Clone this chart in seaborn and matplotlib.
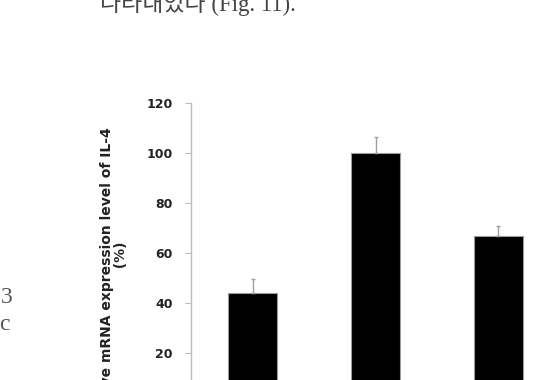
import matplotlib
matplotlib.use('Agg')
import matplotlib.pyplot as plt
import seaborn as sns
import pandas as pd

groups = ['Control', 'Group 2', 'Group 3']
means = [44, 100, 67]
errors = [5.5, 6.5, 4.0]
yticks = [0, 20, 40, 60, 80, 100, 120]
ylabel = 'Relative mRNA expression level of IL-4\n          (%)'
doc_top = '나타내었다 (Fig. 11).'

sns.set_theme(style='white')
plt.rcParams['font.family'] = ['DejaVu Sans']

W, H = 543, 380
fig = plt.figure(figsize=(W / 100, H / 100), dpi=100)
ax = fig.add_axes([191 / W, -23 / H, 369 / W, 300 / H])

df = pd.DataFrame({'group': groups, 'mean': means})
sns.barplot(data=df, x='group', y='mean', color='black', saturation=1,
            width=0.4, edgecolor='#9a9a9a', linewidth=0.8, errorbar=None, ax=ax)
ax.errorbar(range(len(groups)), means, yerr=[[0] * len(errors), errors],
            fmt='none', ecolor='#a0a0a0', elinewidth=1.0, capsize=1.5, capthick=1.0)

ax.set_xlim(-0.506, 2.506)
ax.set_ylim(0, 120)
ax.set_yticks(yticks)
ax.set_yticklabels([str(v) for v in yticks], fontsize=9, fontweight='bold', color='#222222')
ax.tick_params(axis='y', direction='out', length=4, width=0.8, color='#bbbbbb', pad=9, left=True)
ax.tick_params(axis='x', bottom=False, labelbottom=False)
ax.set_xlabel('')
for s in ['top', 'right', 'bottom']:
    ax.spines[s].set_visible(False)
ax.spines['left'].set_color('#bbbbbb')
ax.spines['left'].set_linewidth(1.0)

ax.set_ylabel(ylabel, fontsize=10, fontweight='bold', family=['DejaVu Sans'],
              color='#222222', linespacing=1.0)
ax.yaxis.label.set_va('center')
ax.yaxis.set_label_coords(114 / W, 1 - 279 / H, transform=fig.transFigure)

# fragments of surrounding document text
fig.text(100 / W, 1 - 11 / H, doc_top, fontsize=16.5, color='#444444',
         family=['Liberation Serif', 'Noto Sans CJK KR'], ha='left', va='baseline')
fig.text(1 / W, 1 - 303 / H, '3', fontsize=17, color='#555555',
         family=['Liberation Serif'], ha='left', va='baseline')
fig.text(-1 / W, 1 - 330 / H, 'c', fontsize=17, color='#555555',
         family=['Liberation Serif'], ha='left', va='baseline')

fig.savefig('out.png', dpi=100)
